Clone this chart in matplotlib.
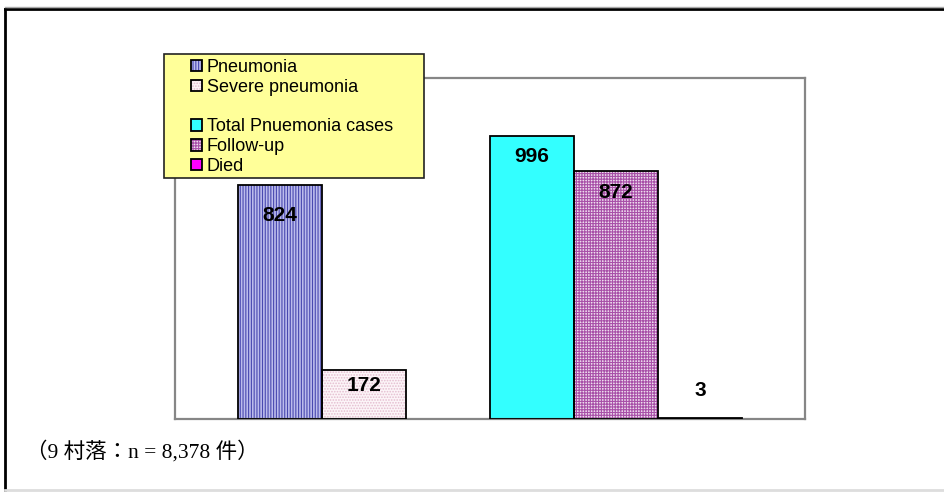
import matplotlib
matplotlib.use("Agg")
import matplotlib.pyplot as plt
from matplotlib.patches import Rectangle, Patch
from matplotlib.lines import Line2D
from matplotlib.legend_handler import HandlerTuple

# Case counts; the empty series separates the two groups of bars
series_labels = ["Pneumonia", "Severe pneumonia", "", "Total Pnuemonia cases", "Follow-up", "Died"]
series_values = [824, 172, None, 996, 872, 3]
footnote = "（9 村落：n = 8,378 件）"

W, H, DPI = 944, 492, 100
fig = plt.figure(figsize=(W / DPI, H / DPI), dpi=DPI)
fig.patch.set_facecolor("white")

# outer frame of the figure
fig.add_artist(Line2D([5 / W, 5 / W], [1 - 9 / H, 1 - 490 / H], color="black", lw=2, transform=fig.transFigure))
fig.add_artist(Line2D([5 / W, 1.0], [1 - 9 / H, 1 - 9 / H], color="black", lw=2, transform=fig.transFigure))
fig.add_artist(Line2D([5 / W, 1.0], [1 - 7 / H, 1 - 7 / H], color="#aaaaaa", lw=1, transform=fig.transFigure))
fig.add_artist(Line2D([5 / W, 1.0], [1 - 490 / H, 1 - 490 / H], color="#dddddd", lw=2, transform=fig.transFigure))

ax = fig.add_axes([175 / W, 1 - 419 / H, 630 / W, 341 / H])
gap = 0.75  # half of a 150% gap width
ax.set_xlim(0, len(series_labels) + 2 * gap)
ax.set_ylim(0, 1200)
ax.set_xticks([])
ax.set_yticks([])
for s in ax.spines.values():
    s.set_color("#868686")
    s.set_linewidth(1.6)
ax.set_facecolor("white")

styles = {
    "Pneumonia": dict(face="#bcbcec", hatch="||||||", hc="#4848b0"),
    "Severe pneumonia": dict(face="#fcf5f8", hatch="......", hc="#e4bccf"),
    "Total Pnuemonia cases": dict(face="#33ffff", hatch=None, hc=None),
    "Follow-up": dict(face="#eedcee", hatch="++++++", hc="#a850a8"),
    "Died": dict(face="#ff00ff", hatch=None, hc=None),
}
label_offsets = {"Pneumonia": -31, "Severe pneumonia": -15,
                 "Total Pnuemonia cases": -21, "Follow-up": -21, "Died": 29}

plt.rcParams["hatch.linewidth"] = 0.8

for j, (lab, val) in enumerate(zip(series_labels, series_values)):
    if val is None:
        continue
    left = gap + j
    st = styles[lab]
    ax.bar(left, val, width=1, align="edge", color=st["face"],
           hatch=st["hatch"], edgecolor=st["hc"] or st["face"], linewidth=0, zorder=2)
    ax.bar(left, val, width=1, align="edge", fill=False,
           edgecolor="black", linewidth=1.3, zorder=3)
    off = label_offsets[lab]
    ypos = val if off < 0 else 0
    ax.annotate(f"{val}", (left + 0.5, ypos), xytext=(0, off * 72 / DPI),
                textcoords="offset points", ha="center", va="center",
                fontsize=15, fontweight="bold", family="Liberation Sans", zorder=4)

# legend box
fig.add_artist(Rectangle((164 / W, 1 - 178 / H), 260 / W, 124 / H, transform=fig.transFigure,
                         facecolor="#ffff99", edgecolor="#222222", linewidth=1.2, zorder=5))
handles = []
for n in series_labels:
    if n == "":
        handles.append(Patch(facecolor="none", edgecolor="none"))
    else:
        st = styles[n]
        fill = Patch(facecolor=st["face"], hatch=st["hatch"], edgecolor=st["hc"] or st["face"], linewidth=0)
        border = Patch(facecolor="none", edgecolor="black", linewidth=1.3)
        handles.append((fill, border))
leg = fig.legend(handles, series_labels, loc="upper left", bbox_to_anchor=(191 / W, 1 - 59 / H),
                 frameon=False, prop={"family": "Liberation Sans", "size": 13},
                 handlelength=0.62, handleheight=0.62, handletextpad=0.25,
                 labelspacing=0.155, borderpad=0, borderaxespad=0,
                 handler_map={tuple: HandlerTuple(ndivide=1, pad=0)})
leg.set_zorder(6)

fig.text(26 / W, 1 - 452 / H, footnote, ha="left", va="center", fontsize=15.5,
         family=["Liberation Serif", "Noto Sans CJK JP"])

fig.savefig("out.png", dpi=DPI)
